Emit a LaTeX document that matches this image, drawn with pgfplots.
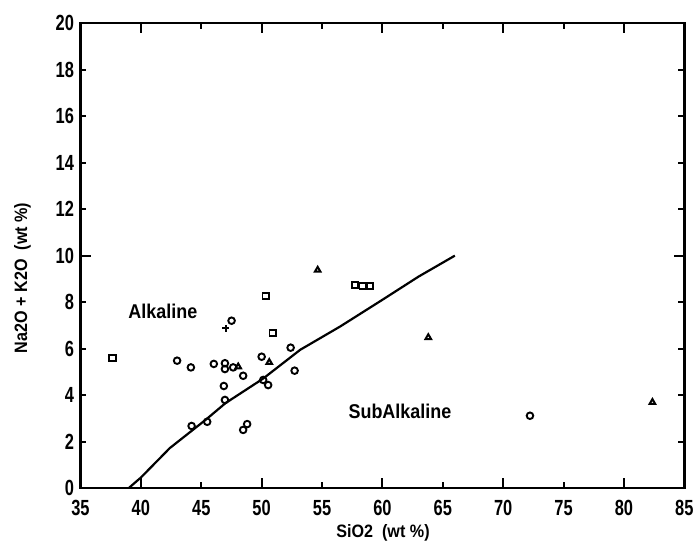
\documentclass[border=0pt]{standalone}
\usepackage{fontspec}
\setmainfont{Liberation Sans}
\newfontfamily\tickfont{Liberation Sans Bold}[FakeStretch=0.75]
\newfontfamily\labfont{Liberation Sans Bold}[FakeStretch=0.9]
\usepackage{pgfplots}
\pgfplotsset{compat=1.18}
\begin{document}
\begin{tikzpicture}
\begin{axis}[
  scale only axis,
  width=603.8bp, height=464.7bp,
  xmin=35, xmax=85, ymin=0, ymax=20,
  xtick={35,40,...,85}, ytick={0,2,...,20},
  extra x ticks={40,50,60,70,80}, extra x tick labels={},
  extra x tick style={major tick length=10bp},
  extra y ticks={10}, extra y tick labels={},
  extra y tick style={major tick length=10bp},
  major tick length=6bp,
  tick align=inside,
  axis line style={line width=2.4bp},
  every tick/.style={line width=2bp, black},
  /pgf/number format/assume math mode=true,
  tick label style={font=\tickfont\fontsize{22}{22}\selectfont},
  xticklabel style={yshift=-9bp},
  yticklabel style={xshift=-3bp},
  xlabel={SiO2\ \ (wt \%)},
  ylabel={Na2O + K2O\ \ (wt \%)},
  label style={font=\labfont\fontsize{18}{18}\selectfont},
  xlabel style={at={(axis description cs:0.501,-0.097)}, anchor=center},
  ylabel style={at={(axis description cs:-0.096,0.452)}, anchor=center},
  clip=false,
  mark options={solid, line width=1.9bp},
]
\addplot[black, line width=2.2bp, no marks] coordinates {
 (39.0,0) (40.0,0.45) (42.4,1.72) (45.4,2.95) (47.0,3.65) (50.1,4.7)
 (53.2,5.95) (56.5,6.95) (60.0,8.1) (63.0,9.1) (66.0,10.0)
};
\addplot[black, only marks, mark=o, mark size=3.3bp] coordinates {
 (47.51,7.20) (43.0,5.48) (44.14,5.19) (46.04,5.34) (46.96,5.37) (46.96,5.12)
 (47.64,5.19) (48.47,4.83) (50.0,5.65) (52.40,6.04) (52.73,5.05) (46.87,4.39)
 (50.13,4.65) (50.54,4.43) (46.96,3.79) (45.49,2.85) (44.2,2.67) (48.47,2.50)
 (48.8,2.75) (72.22,3.11)
};
\addplot[black, only marks, mark=square, mark size=3.1bp] coordinates {
 (37.65,5.58) (50.33,8.26) (50.91,6.66) (57.73,8.73) (58.36,8.70) (58.97,8.70)
};
\addplot[black, only marks, mark=triangle, mark size=3.2bp, mark options={line width=2bp}] coordinates {
 (54.64,9.38) (48.06,5.22) (50.63,5.41) (63.80,6.48) (82.36,3.69)
};
\addplot[black, only marks, mark=+, mark size=3.5bp, mark options={line width=2bp}] coordinates {
 (47.01,6.87)
};
\node[font=\labfont\fontsize{20}{20}\selectfont] at (axis cs:41.82,7.59) {Alkaline};
\node[font=\labfont\fontsize{20}{20}\selectfont] at (axis cs:61.45,3.28) {SubAlkaline};
\end{axis}
\pgfresetboundingbox
\path ([shift={(-80.5bp,-59bp)}]current axis.south west) rectangle ([shift={(8.7bp,23.3bp)}]current axis.north east);
\end{tikzpicture}
\end{document}
